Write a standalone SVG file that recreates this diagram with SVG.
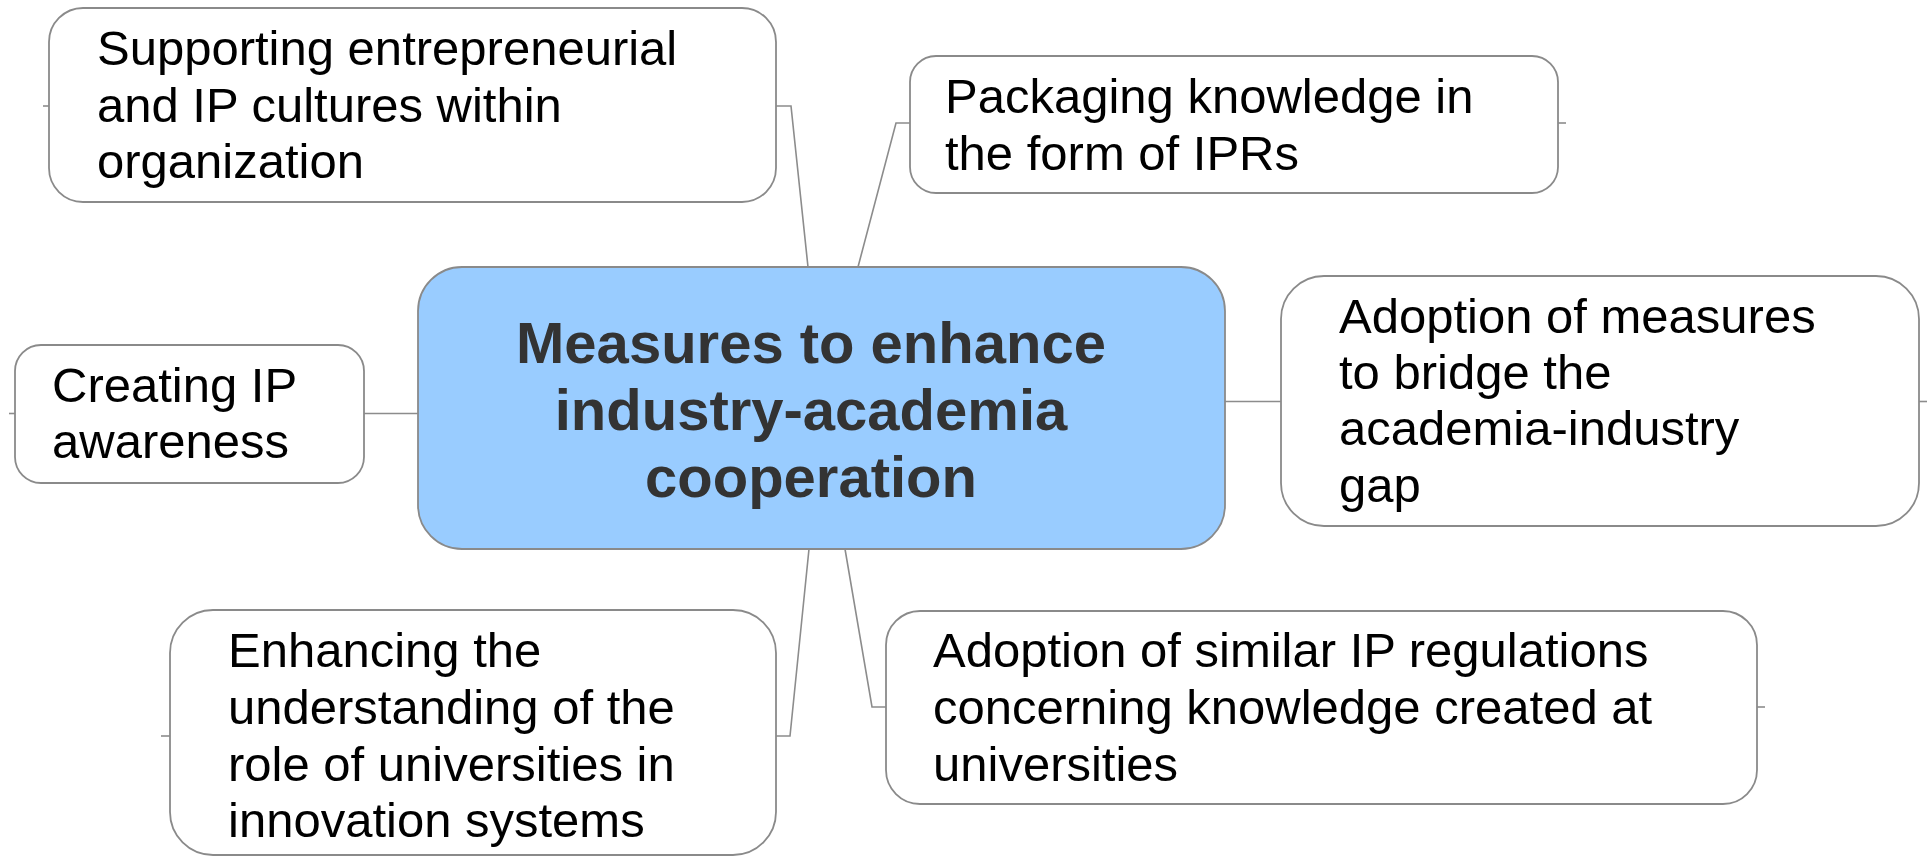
<svg xmlns="http://www.w3.org/2000/svg" width="1927" height="856" viewBox="0 0 1927 856">
<style>
.box{fill:#ffffff;stroke:#8a8a8a;stroke-width:1.8}
.center{fill:#99ccff;stroke:#8a8a8a;stroke-width:1.8}
.t{font-family:"Liberation Sans",Arial,sans-serif;font-size:49px;fill:#000000}
.ct{font-family:"Liberation Sans",Arial,sans-serif;font-size:58px;font-weight:bold;fill:#333333;text-anchor:middle}
.ln{fill:none;stroke:#8c8c8c;stroke-width:1.6}
</style>
<rect width="1927" height="856" fill="#ffffff"/>
<g id="connectors">
<polyline class="ln" points="808,267 791,106 776,106"/>
<line class="ln" x1="43" y1="106" x2="49" y2="106"/>
<polyline class="ln" points="858,267 896,123 910,123"/>
<line class="ln" x1="1558" y1="123" x2="1566" y2="123"/>
<line class="ln" x1="364" y1="413.5" x2="418" y2="413.5"/>
<line class="ln" x1="9" y1="413.5" x2="15" y2="413.5"/>
<line class="ln" x1="1225" y1="401.5" x2="1281" y2="401.5"/>
<line class="ln" x1="1919" y1="401.5" x2="1927" y2="401.5"/>
<polyline class="ln" points="809,549 790,736 776,736"/>
<line class="ln" x1="161" y1="736" x2="170" y2="736"/>
<polyline class="ln" points="845,549 872,707 886,707"/>
<line class="ln" x1="1757" y1="707" x2="1765" y2="707"/>
</g>
<g id="center">
<rect class="center" x="418" y="267" width="807" height="282" rx="44" ry="44"/>
<text class="ct" x="811" y="363">Measures to enhance</text>
<text class="ct" x="811" y="430">industry-academia</text>
<text class="ct" x="811" y="497">cooperation</text>
</g>
<g id="node-supporting">
<rect class="box" x="49" y="8" width="727" height="194" rx="34" ry="34"/>
<text class="t" x="97" y="65">Supporting entrepreneurial</text>
<text class="t" x="97" y="122">and IP cultures within</text>
<text class="t" x="97" y="178">organization</text>
</g>
<g id="node-packaging">
<rect class="box" x="910" y="56" width="648" height="137" rx="26" ry="26"/>
<text class="t" x="945" y="113">Packaging knowledge in</text>
<text class="t" x="945" y="170">the form of IPRs</text>
</g>
<g id="node-creating">
<rect class="box" x="15" y="345" width="349" height="138" rx="26" ry="26"/>
<text class="t" x="52" y="402">Creating IP</text>
<text class="t" x="52" y="458">awareness</text>
</g>
<g id="node-bridge">
<rect class="box" x="1281" y="276" width="638" height="250" rx="43" ry="43"/>
<text class="t" x="1339" y="333">Adoption of measures</text>
<text class="t" x="1339" y="389">to bridge the</text>
<text class="t" x="1339" y="445">academia-industry</text>
<text class="t" x="1339" y="502">gap</text>
</g>
<g id="node-enhancing">
<rect class="box" x="170" y="610" width="606" height="245" rx="43" ry="43"/>
<text class="t" x="228" y="667">Enhancing the</text>
<text class="t" x="228" y="724">understanding of the</text>
<text class="t" x="228" y="781">role of universities in</text>
<text class="t" x="228" y="837">innovation systems</text>
</g>
<g id="node-similar">
<rect class="box" x="886" y="611" width="871" height="193" rx="34" ry="34"/>
<text class="t" x="933" y="667">Adoption of similar IP regulations</text>
<text class="t" x="933" y="724">concerning knowledge created at</text>
<text class="t" x="933" y="781">universities</text>
</g>
</svg>
